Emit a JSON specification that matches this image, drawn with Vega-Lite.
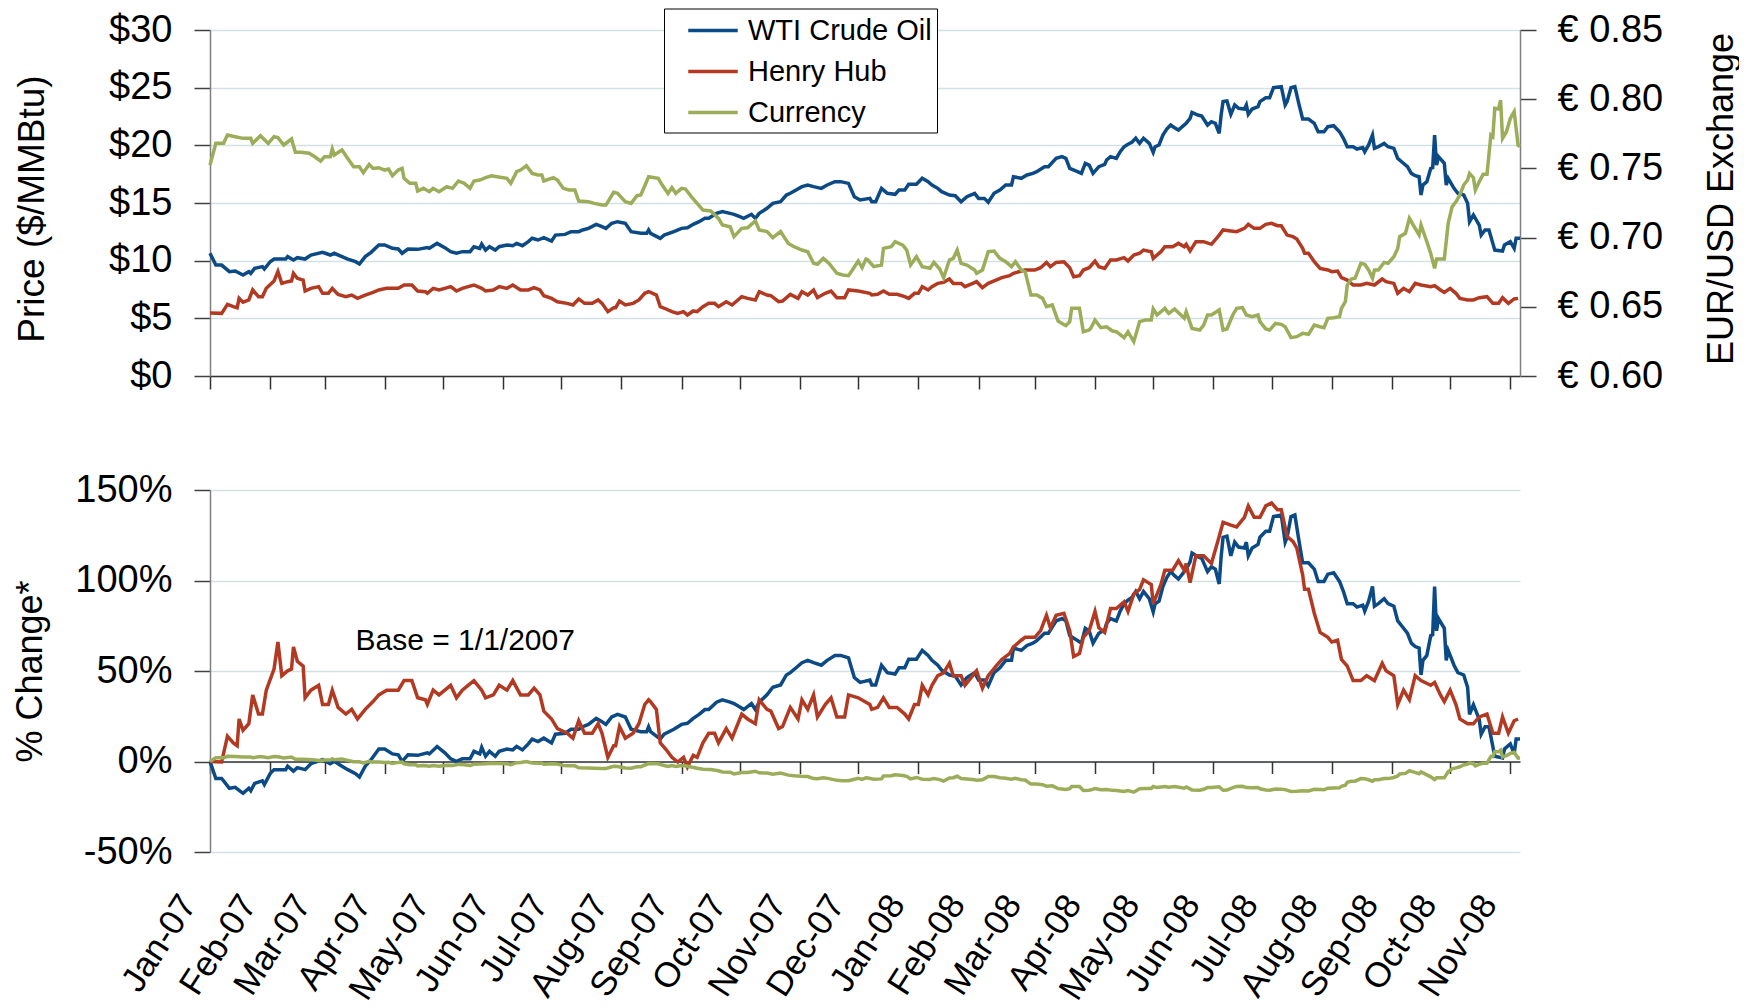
{
"$schema": "https://vega.github.io/schema/vega-lite/v6.json",
"padding": {"left": 12, "top": 8, "right": 0, "bottom": 0},
"background": "white",
"spacing": 76,
"config": {
 "font": "Liberation Sans",
 "view": {"stroke": null},
 "axis": {"labelFont": "Liberation Sans", "titleFont": "Liberation Sans", "labelColor": "#000", "titleColor": "#000", "titleFontWeight": "normal", "labelFontSize": 38, "titleFontSize": 36, "gridColor": "#d3e1e6", "gridWidth": 1.5, "domainColor": "#7f7f7f", "tickColor": "#404040", "domainWidth": 1.5, "tickWidth": 1.5},
 "line": {"strokeWidth": 3.5}
},
"resolve": {"scale": {"color": "independent", "x": "independent"}},
"datasets": {
"wti": [
{"d":"2007-01-01","v":10.64,"p":0},{"d":"2007-01-04","v":9.62,"p":-0.094},{"d":"2007-01-07","v":9.62,"p":-0.094},{"d":"2007-01-11","v":9.05,"p":-0.148},{"d":"2007-01-14","v":9.10,"p":-0.143},{"d":"2007-01-18","v":8.76,"p":-0.176},{"d":"2007-01-21","v":9.05,"p":-0.148},{"d":"2007-01-22","v":8.90,"p":-0.162},{"d":"2007-01-24","v":9.33,"p":-0.121},{"d":"2007-01-28","v":9.48,"p":-0.107},{"d":"2007-01-29","v":9.28,"p":-0.127},{"d":"2007-02-01","v":9.91,"p":-0.067},{"d":"2007-02-03","v":10.14,"p":-0.045},{"d":"2007-02-09","v":10.14,"p":-0.045},{"d":"2007-02-10","v":10.35,"p":-0.026},{"d":"2007-02-13","v":10.06,"p":-0.053},{"d":"2007-02-15","v":10.26,"p":-0.034},{"d":"2007-02-19","v":10.14,"p":-0.045},{"d":"2007-02-22","v":10.49,"p":-0.012},{"d":"2007-02-28","v":10.72,"p":0.010},{"d":"2007-03-04","v":10.49,"p":-0.012},{"d":"2007-03-06","v":10.64,"p":0.001},{"d":"2007-03-10","v":10.35,"p":-0.026},{"d":"2007-03-13","v":10.14,"p":-0.045},{"d":"2007-03-17","v":9.91,"p":-0.067},{"d":"2007-03-19","v":9.71,"p":-0.086},{"d":"2007-03-22","v":10.35,"p":-0.026},{"d":"2007-03-25","v":10.72,"p":0.010},{"d":"2007-03-29","v":11.36,"p":0.069},{"d":"2007-04-01","v":11.36,"p":0.069},{"d":"2007-04-05","v":11.07,"p":0.042},{"d":"2007-04-08","v":11.01,"p":0.037},{"d":"2007-04-10","v":10.64,"p":0.001},{"d":"2007-04-13","v":11.01,"p":0.037},{"d":"2007-04-18","v":10.98,"p":0.034},{"d":"2007-04-23","v":11.13,"p":0.048},{"d":"2007-04-24","v":11.07,"p":0.042},{"d":"2007-04-28","v":11.50,"p":0.083},{"d":"2007-05-02","v":11.13,"p":0.048},{"d":"2007-05-05","v":10.78,"p":0.015},{"d":"2007-05-08","v":10.64,"p":0.001},{"d":"2007-05-11","v":10.78,"p":0.015},{"d":"2007-05-15","v":10.78,"p":0.015},{"d":"2007-05-17","v":11.21,"p":0.056},{"d":"2007-05-20","v":11.07,"p":0.042},{"d":"2007-05-21","v":11.44,"p":0.078},{"d":"2007-05-23","v":10.92,"p":0.029},{"d":"2007-05-25","v":11.21,"p":0.056},{"d":"2007-05-28","v":10.92,"p":0.029},{"d":"2007-05-30","v":11.21,"p":0.056},{"d":"2007-06-03","v":11.36,"p":0.069},{"d":"2007-06-06","v":11.30,"p":0.064},{"d":"2007-06-08","v":11.50,"p":0.083},{"d":"2007-06-11","v":11.30,"p":0.064},{"d":"2007-06-14","v":11.65,"p":0.097},{"d":"2007-06-16","v":11.94,"p":0.124},{"d":"2007-06-19","v":11.79,"p":0.110},{"d":"2007-06-22","v":11.99,"p":0.129},{"d":"2007-06-26","v":11.70,"p":0.102},{"d":"2007-06-28","v":12.22,"p":0.151},{"d":"2007-07-03","v":12.28,"p":0.156},{"d":"2007-07-06","v":12.51,"p":0.178},{"d":"2007-07-10","v":12.51,"p":0.178},{"d":"2007-07-12","v":12.66,"p":0.192},{"d":"2007-07-15","v":12.80,"p":0.205},{"d":"2007-07-19","v":13.15,"p":0.238},{"d":"2007-07-22","v":12.95,"p":0.219},{"d":"2007-07-24","v":12.80,"p":0.205},{"d":"2007-07-27","v":13.24,"p":0.246},{"d":"2007-07-30","v":13.38,"p":0.260},{"d":"2007-08-03","v":13.24,"p":0.246},{"d":"2007-08-06","v":12.51,"p":0.178},{"d":"2007-08-11","v":12.37,"p":0.165},{"d":"2007-08-14","v":12.37,"p":0.165},{"d":"2007-08-15","v":12.66,"p":0.192},{"d":"2007-08-16","v":12.37,"p":0.165},{"d":"2007-08-21","v":11.94,"p":0.124},{"d":"2007-08-23","v":12.22,"p":0.151},{"d":"2007-08-28","v":12.51,"p":0.178},{"d":"2007-09-01","v":12.80,"p":0.205},{"d":"2007-09-04","v":12.86,"p":0.211},{"d":"2007-09-07","v":13.15,"p":0.238},{"d":"2007-09-10","v":13.38,"p":0.260},{"d":"2007-09-13","v":13.67,"p":0.287},{"d":"2007-09-15","v":13.67,"p":0.287},{"d":"2007-09-19","v":14.10,"p":0.328},{"d":"2007-09-22","v":14.25,"p":0.341},{"d":"2007-09-26","v":14.10,"p":0.328},{"d":"2007-09-28","v":14.02,"p":0.320},{"d":"2007-10-01","v":13.81,"p":0.301},{"d":"2007-10-03","v":13.67,"p":0.287},{"d":"2007-10-07","v":14.02,"p":0.320},{"d":"2007-10-09","v":13.67,"p":0.287},{"d":"2007-10-11","v":14.10,"p":0.328},{"d":"2007-10-15","v":14.54,"p":0.369},{"d":"2007-10-18","v":14.97,"p":0.410},{"d":"2007-10-22","v":15.11,"p":0.423},{"d":"2007-10-25","v":15.69,"p":0.478},{"d":"2007-10-27","v":15.84,"p":0.491},{"d":"2007-10-30","v":16.13,"p":0.518},{"d":"2007-11-02","v":16.42,"p":0.546},{"d":"2007-11-05","v":16.56,"p":0.559},{"d":"2007-11-08","v":16.42,"p":0.546},{"d":"2007-11-12","v":16.27,"p":0.532},{"d":"2007-11-15","v":16.56,"p":0.559},{"d":"2007-11-19","v":16.85,"p":0.586},{"d":"2007-11-22","v":16.85,"p":0.586},{"d":"2007-11-26","v":16.70,"p":0.573},{"d":"2007-11-29","v":15.55,"p":0.464},{"d":"2007-12-02","v":15.26,"p":0.437},{"d":"2007-12-07","v":15.40,"p":0.450},{"d":"2007-12-08","v":15.11,"p":0.423},{"d":"2007-12-10","v":15.11,"p":0.423},{"d":"2007-12-13","v":16.27,"p":0.532},{"d":"2007-12-16","v":15.84,"p":0.491},{"d":"2007-12-20","v":15.75,"p":0.483},{"d":"2007-12-22","v":16.13,"p":0.518},{"d":"2007-12-25","v":16.13,"p":0.518},{"d":"2007-12-27","v":16.62,"p":0.565},{"d":"2007-12-31","v":16.62,"p":0.565},{"d":"2008-01-03","v":17.14,"p":0.614},{"d":"2008-01-06","v":16.85,"p":0.586},{"d":"2008-01-08","v":16.56,"p":0.559},{"d":"2008-01-11","v":16.27,"p":0.532},{"d":"2008-01-13","v":15.98,"p":0.505},{"d":"2008-01-17","v":15.69,"p":0.478},{"d":"2008-01-20","v":15.63,"p":0.472},{"d":"2008-01-23","v":15.11,"p":0.423},{"d":"2008-01-26","v":15.55,"p":0.464},{"d":"2008-01-30","v":15.84,"p":0.491},{"d":"2008-02-01","v":15.40,"p":0.450},{"d":"2008-02-04","v":15.40,"p":0.450},{"d":"2008-02-06","v":15.06,"p":0.418},{"d":"2008-02-09","v":15.84,"p":0.491},{"d":"2008-02-12","v":16.13,"p":0.518},{"d":"2008-02-15","v":16.56,"p":0.559},{"d":"2008-02-18","v":16.56,"p":0.559},{"d":"2008-02-19","v":17.28,"p":0.627},{"d":"2008-02-23","v":17.14,"p":0.614},{"d":"2008-02-26","v":17.43,"p":0.641},{"d":"2008-02-29","v":17.57,"p":0.654},{"d":"2008-03-02","v":17.72,"p":0.668},{"d":"2008-03-06","v":18.15,"p":0.709},{"d":"2008-03-08","v":18.15,"p":0.709},{"d":"2008-03-12","v":18.87,"p":0.777},{"d":"2008-03-15","v":19.02,"p":0.790},{"d":"2008-03-17","v":18.87,"p":0.777},{"d":"2008-03-19","v":18.00,"p":0.695},{"d":"2008-03-23","v":17.72,"p":0.668},{"d":"2008-03-25","v":17.57,"p":0.654},{"d":"2008-03-27","v":18.44,"p":0.736},{"d":"2008-03-29","v":18.29,"p":0.722},{"d":"2008-03-31","v":17.57,"p":0.654},{"d":"2008-04-03","v":18.15,"p":0.709},{"d":"2008-04-06","v":18.35,"p":0.728},{"d":"2008-04-07","v":18.73,"p":0.763},{"d":"2008-04-09","v":19.02,"p":0.790},{"d":"2008-04-12","v":18.87,"p":0.777},{"d":"2008-04-14","v":19.45,"p":0.831},{"d":"2008-04-16","v":19.88,"p":0.872},{"d":"2008-04-18","v":20.09,"p":0.891},{"d":"2008-04-20","v":20.26,"p":0.907},{"d":"2008-04-22","v":20.61,"p":0.940},{"d":"2008-04-24","v":20.17,"p":0.899},{"d":"2008-04-26","v":20.61,"p":0.940},{"d":"2008-04-29","v":20.17,"p":0.899},{"d":"2008-05-01","v":19.39,"p":0.826},{"d":"2008-05-02","v":19.88,"p":0.872},{"d":"2008-05-04","v":20.03,"p":0.886},{"d":"2008-05-06","v":20.89,"p":0.967},{"d":"2008-05-08","v":21.41,"p":1.016},{"d":"2008-05-10","v":21.76,"p":1.049},{"d":"2008-05-12","v":21.53,"p":1.027},{"d":"2008-05-14","v":21.33,"p":1.008},{"d":"2008-05-16","v":21.62,"p":1.035},{"d":"2008-05-18","v":21.91,"p":1.063},{"d":"2008-05-20","v":22.34,"p":1.103},{"d":"2008-05-21","v":22.86,"p":1.152},{"d":"2008-05-24","v":22.63,"p":1.131},{"d":"2008-05-26","v":22.54,"p":1.122},{"d":"2008-05-29","v":21.76,"p":1.049},{"d":"2008-05-31","v":22.05,"p":1.076},{"d":"2008-06-02","v":21.91,"p":1.063},{"d":"2008-06-04","v":21.04,"p":0.981},{"d":"2008-06-05","v":22.63,"p":1.131},{"d":"2008-06-06","v":23.79,"p":1.239},{"d":"2008-06-08","v":23.84,"p":1.245},{"d":"2008-06-10","v":22.69,"p":1.136},{"d":"2008-06-12","v":23.50,"p":1.212},{"d":"2008-06-14","v":23.21,"p":1.185},{"d":"2008-06-17","v":23.15,"p":1.180},{"d":"2008-06-18","v":23.50,"p":1.212},{"d":"2008-06-19","v":22.69,"p":1.136},{"d":"2008-06-21","v":23.15,"p":1.180},{"d":"2008-06-24","v":23.35,"p":1.199},{"d":"2008-06-25","v":23.79,"p":1.239},{"d":"2008-06-28","v":24.13,"p":1.272},{"d":"2008-06-30","v":24.13,"p":1.272},{"d":"2008-07-02","v":25.00,"p":1.354},{"d":"2008-07-06","v":25.09,"p":1.362},{"d":"2008-07-08","v":23.50,"p":1.212},{"d":"2008-07-09","v":23.79,"p":1.239},{"d":"2008-07-11","v":25.00,"p":1.354},{"d":"2008-07-13","v":25.09,"p":1.362},{"d":"2008-07-15","v":23.64,"p":1.226},{"d":"2008-07-17","v":22.28,"p":1.098},{"d":"2008-07-20","v":22.28,"p":1.098},{"d":"2008-07-23","v":21.91,"p":1.063},{"d":"2008-07-25","v":21.18,"p":0.995},{"d":"2008-07-28","v":21.18,"p":0.995},{"d":"2008-07-30","v":21.62,"p":1.035},{"d":"2008-08-02","v":21.70,"p":1.043},{"d":"2008-08-05","v":21.18,"p":0.995},{"d":"2008-08-07","v":20.61,"p":0.940},{"d":"2008-08-09","v":19.88,"p":0.872},{"d":"2008-08-12","v":19.88,"p":0.872},{"d":"2008-08-14","v":19.68,"p":0.853},{"d":"2008-08-17","v":19.80,"p":0.864},{"d":"2008-08-18","v":19.45,"p":0.831},{"d":"2008-08-20","v":20.03,"p":0.886},{"d":"2008-08-22","v":20.89,"p":0.967},{"d":"2008-08-23","v":19.74,"p":0.858},{"d":"2008-08-25","v":19.88,"p":0.872},{"d":"2008-08-28","v":20.17,"p":0.899},{"d":"2008-08-30","v":19.88,"p":0.872},{"d":"2008-09-02","v":19.74,"p":0.858},{"d":"2008-09-04","v":18.87,"p":0.777},{"d":"2008-09-06","v":18.58,"p":0.750},{"d":"2008-09-09","v":18.15,"p":0.709},{"d":"2008-09-11","v":17.57,"p":0.654},{"d":"2008-09-13","v":17.37,"p":0.635},{"d":"2008-09-15","v":17.28,"p":0.627},{"d":"2008-09-16","v":15.69,"p":0.478},{"d":"2008-09-17","v":16.56,"p":0.559},{"d":"2008-09-19","v":16.85,"p":0.586},{"d":"2008-09-21","v":18.00,"p":0.695},{"d":"2008-09-22","v":18.06,"p":0.701},{"d":"2008-09-23","v":20.89,"p":0.967},{"d":"2008-09-24","v":18.29,"p":0.722},{"d":"2008-09-25","v":19.02,"p":0.790},{"d":"2008-09-28","v":18.44,"p":0.736},{"d":"2008-09-29","v":16.56,"p":0.559},{"d":"2008-09-30","v":17.14,"p":0.614},{"d":"2008-10-03","v":16.27,"p":0.532},{"d":"2008-10-05","v":15.84,"p":0.491},{"d":"2008-10-08","v":15.69,"p":0.478},{"d":"2008-10-10","v":14.97,"p":0.410},{"d":"2008-10-11","v":13.38,"p":0.260},{"d":"2008-10-13","v":13.96,"p":0.314},{"d":"2008-10-16","v":13.09,"p":0.233},{"d":"2008-10-17","v":12.22,"p":0.151},{"d":"2008-10-19","v":12.66,"p":0.192},{"d":"2008-10-21","v":12.66,"p":0.192},{"d":"2008-10-23","v":11.50,"p":0.083},{"d":"2008-10-24","v":10.92,"p":0.029},{"d":"2008-10-28","v":10.84,"p":0.020},{"d":"2008-10-29","v":11.36,"p":0.069},{"d":"2008-11-01","v":11.65,"p":0.097},{"d":"2008-11-03","v":11.07,"p":0.042},{"d":"2008-11-04","v":11.94,"p":0.124},{"d":"2008-11-06","v":11.94,"p":0.124}
],
"hh": [
{"d":"2007-01-01","v":5.46,"p":0},{"d":"2007-01-07","v":5.43,"p":-0.003},{"d":"2007-01-10","v":6.21,"p":0.140},{"d":"2007-01-13","v":6.01,"p":0.103},{"d":"2007-01-15","v":5.92,"p":0.087},{"d":"2007-01-16","v":6.73,"p":0.235},{"d":"2007-01-18","v":6.39,"p":0.172},{"d":"2007-01-21","v":6.59,"p":0.209},{"d":"2007-01-23","v":7.46,"p":0.368},{"d":"2007-01-26","v":6.88,"p":0.262},{"d":"2007-01-28","v":6.88,"p":0.262},{"d":"2007-01-30","v":7.60,"p":0.394},{"d":"2007-02-03","v":8.24,"p":0.511},{"d":"2007-02-05","v":9.05,"p":0.660},{"d":"2007-02-07","v":8.03,"p":0.474},{"d":"2007-02-10","v":8.18,"p":0.501},{"d":"2007-02-12","v":8.24,"p":0.511},{"d":"2007-02-13","v":8.90,"p":0.633},{"d":"2007-02-15","v":8.47,"p":0.554},{"d":"2007-02-18","v":8.32,"p":0.527},{"d":"2007-02-19","v":7.37,"p":0.352},{"d":"2007-02-22","v":7.60,"p":0.394},{"d":"2007-02-26","v":7.75,"p":0.421},{"d":"2007-02-28","v":7.17,"p":0.315},{"d":"2007-03-03","v":7.17,"p":0.315},{"d":"2007-03-05","v":7.60,"p":0.394},{"d":"2007-03-08","v":7.08,"p":0.299},{"d":"2007-03-12","v":6.88,"p":0.262},{"d":"2007-03-15","v":7.02,"p":0.288},{"d":"2007-03-18","v":6.73,"p":0.235},{"d":"2007-03-22","v":7.02,"p":0.288},{"d":"2007-03-26","v":7.25,"p":0.331},{"d":"2007-03-29","v":7.46,"p":0.368},{"d":"2007-04-02","v":7.60,"p":0.394},{"d":"2007-04-08","v":7.60,"p":0.394},{"d":"2007-04-11","v":7.89,"p":0.447},{"d":"2007-04-15","v":7.89,"p":0.447},{"d":"2007-04-18","v":7.37,"p":0.352},{"d":"2007-04-22","v":7.31,"p":0.341},{"d":"2007-04-23","v":7.17,"p":0.315},{"d":"2007-04-26","v":7.60,"p":0.394},{"d":"2007-04-29","v":7.46,"p":0.368},{"d":"2007-05-02","v":7.60,"p":0.394},{"d":"2007-05-05","v":7.75,"p":0.421},{"d":"2007-05-08","v":7.37,"p":0.352},{"d":"2007-05-11","v":7.60,"p":0.394},{"d":"2007-05-14","v":7.75,"p":0.421},{"d":"2007-05-17","v":7.89,"p":0.447},{"d":"2007-05-21","v":7.60,"p":0.394},{"d":"2007-05-23","v":7.37,"p":0.352},{"d":"2007-05-27","v":7.46,"p":0.368},{"d":"2007-05-30","v":7.75,"p":0.421},{"d":"2007-06-03","v":7.60,"p":0.394},{"d":"2007-06-06","v":7.89,"p":0.447},{"d":"2007-06-10","v":7.46,"p":0.368},{"d":"2007-06-14","v":7.46,"p":0.368},{"d":"2007-06-17","v":7.66,"p":0.405},{"d":"2007-06-20","v":7.46,"p":0.368},{"d":"2007-06-22","v":6.96,"p":0.278},{"d":"2007-06-26","v":6.73,"p":0.235},{"d":"2007-06-29","v":6.44,"p":0.182},{"d":"2007-07-04","v":6.30,"p":0.156},{"d":"2007-07-07","v":6.16,"p":0.129},{"d":"2007-07-10","v":6.68,"p":0.225},{"d":"2007-07-13","v":6.30,"p":0.156},{"d":"2007-07-17","v":6.30,"p":0.156},{"d":"2007-07-20","v":6.59,"p":0.209},{"d":"2007-07-22","v":6.30,"p":0.156},{"d":"2007-07-25","v":5.58,"p":0.023},{"d":"2007-07-28","v":5.92,"p":0.087},{"d":"2007-07-29","v":5.92,"p":0.087},{"d":"2007-07-31","v":6.50,"p":0.193},{"d":"2007-08-03","v":6.16,"p":0.129},{"d":"2007-08-07","v":6.30,"p":0.156},{"d":"2007-08-10","v":6.59,"p":0.209},{"d":"2007-08-13","v":7.17,"p":0.315},{"d":"2007-08-15","v":7.31,"p":0.341},{"d":"2007-08-16","v":7.25,"p":0.331},{"d":"2007-08-19","v":7.02,"p":0.288},{"d":"2007-08-21","v":6.01,"p":0.103},{"d":"2007-08-24","v":5.81,"p":0.066},{"d":"2007-08-27","v":5.58,"p":0.023},{"d":"2007-08-30","v":5.43,"p":-0.003},{"d":"2007-09-02","v":5.58,"p":0.023},{"d":"2007-09-04","v":5.29,"p":-0.030},{"d":"2007-09-07","v":5.64,"p":0.034},{"d":"2007-09-09","v":5.58,"p":0.023},{"d":"2007-09-12","v":6.01,"p":0.103},{"d":"2007-09-15","v":6.30,"p":0.156},{"d":"2007-09-18","v":6.30,"p":0.156},{"d":"2007-09-20","v":6.01,"p":0.103},{"d":"2007-09-24","v":6.44,"p":0.182},{"d":"2007-09-27","v":6.16,"p":0.129},{"d":"2007-10-02","v":6.88,"p":0.262},{"d":"2007-10-05","v":6.73,"p":0.235},{"d":"2007-10-09","v":6.59,"p":0.209},{"d":"2007-10-11","v":7.31,"p":0.341},{"d":"2007-10-15","v":7.02,"p":0.288},{"d":"2007-10-17","v":6.96,"p":0.278},{"d":"2007-10-21","v":6.44,"p":0.182},{"d":"2007-10-23","v":6.50,"p":0.193},{"d":"2007-10-27","v":7.08,"p":0.299},{"d":"2007-10-31","v":6.73,"p":0.235},{"d":"2007-11-02","v":7.31,"p":0.341},{"d":"2007-11-05","v":7.02,"p":0.288},{"d":"2007-11-08","v":7.46,"p":0.368},{"d":"2007-11-10","v":6.79,"p":0.246},{"d":"2007-11-14","v":7.17,"p":0.315},{"d":"2007-11-17","v":7.37,"p":0.352},{"d":"2007-11-20","v":6.79,"p":0.246},{"d":"2007-11-24","v":6.79,"p":0.246},{"d":"2007-11-26","v":7.46,"p":0.368},{"d":"2007-12-01","v":7.37,"p":0.352},{"d":"2007-12-07","v":7.17,"p":0.315},{"d":"2007-12-08","v":7.02,"p":0.288},{"d":"2007-12-11","v":7.08,"p":0.299},{"d":"2007-12-14","v":7.37,"p":0.352},{"d":"2007-12-17","v":7.08,"p":0.299},{"d":"2007-12-21","v":7.08,"p":0.299},{"d":"2007-12-25","v":6.88,"p":0.262},{"d":"2007-12-27","v":6.73,"p":0.235},{"d":"2007-12-30","v":7.17,"p":0.315},{"d":"2008-01-01","v":7.17,"p":0.315},{"d":"2008-01-03","v":7.75,"p":0.421},{"d":"2008-01-06","v":7.46,"p":0.368},{"d":"2008-01-08","v":7.75,"p":0.421},{"d":"2008-01-11","v":8.03,"p":0.474},{"d":"2008-01-14","v":8.12,"p":0.490},{"d":"2008-01-17","v":8.41,"p":0.543},{"d":"2008-01-19","v":8.03,"p":0.474},{"d":"2008-01-23","v":8.03,"p":0.474},{"d":"2008-01-25","v":7.75,"p":0.421},{"d":"2008-01-29","v":8.03,"p":0.474},{"d":"2008-01-31","v":8.18,"p":0.501},{"d":"2008-02-03","v":7.66,"p":0.405},{"d":"2008-02-06","v":8.03,"p":0.474},{"d":"2008-02-10","v":8.32,"p":0.527},{"d":"2008-02-13","v":8.53,"p":0.564},{"d":"2008-02-17","v":8.70,"p":0.596},{"d":"2008-02-19","v":8.90,"p":0.633},{"d":"2008-02-23","v":9.10,"p":0.670},{"d":"2008-02-25","v":9.19,"p":0.686},{"d":"2008-03-01","v":9.19,"p":0.686},{"d":"2008-03-04","v":9.39,"p":0.723},{"d":"2008-03-07","v":9.85,"p":0.808},{"d":"2008-03-09","v":9.48,"p":0.739},{"d":"2008-03-12","v":9.85,"p":0.808},{"d":"2008-03-16","v":9.91,"p":0.819},{"d":"2008-03-19","v":9.39,"p":0.723},{"d":"2008-03-21","v":8.61,"p":0.580},{"d":"2008-03-24","v":8.70,"p":0.596},{"d":"2008-03-26","v":9.19,"p":0.686},{"d":"2008-03-29","v":9.39,"p":0.723},{"d":"2008-04-01","v":9.97,"p":0.829},{"d":"2008-04-03","v":9.48,"p":0.739},{"d":"2008-04-06","v":9.33,"p":0.713},{"d":"2008-04-09","v":10.06,"p":0.845},{"d":"2008-04-12","v":10.06,"p":0.845},{"d":"2008-04-16","v":10.26,"p":0.882},{"d":"2008-04-18","v":9.97,"p":0.829},{"d":"2008-04-21","v":10.49,"p":0.925},{"d":"2008-04-24","v":10.64,"p":0.951},{"d":"2008-04-26","v":10.92,"p":1.004},{"d":"2008-04-30","v":10.78,"p":0.978},{"d":"2008-05-01","v":10.20,"p":0.872},{"d":"2008-05-05","v":10.78,"p":0.978},{"d":"2008-05-07","v":11.21,"p":1.057},{"d":"2008-05-11","v":11.21,"p":1.057},{"d":"2008-05-14","v":11.50,"p":1.110},{"d":"2008-05-17","v":11.21,"p":1.057},{"d":"2008-05-18","v":11.42,"p":1.094},{"d":"2008-05-20","v":10.84,"p":0.988},{"d":"2008-05-23","v":11.65,"p":1.137},{"d":"2008-05-27","v":11.65,"p":1.137},{"d":"2008-05-31","v":11.42,"p":1.094},{"d":"2008-06-04","v":12.22,"p":1.243},{"d":"2008-06-06","v":12.66,"p":1.322},{"d":"2008-06-10","v":12.57,"p":1.306},{"d":"2008-06-13","v":12.51,"p":1.296},{"d":"2008-06-17","v":12.80,"p":1.349},{"d":"2008-06-19","v":13.15,"p":1.412},{"d":"2008-06-22","v":12.80,"p":1.349},{"d":"2008-06-25","v":12.80,"p":1.349},{"d":"2008-06-28","v":13.15,"p":1.412},{"d":"2008-07-01","v":13.24,"p":1.428},{"d":"2008-07-04","v":13.03,"p":1.391},{"d":"2008-07-06","v":13.03,"p":1.391},{"d":"2008-07-09","v":12.22,"p":1.243},{"d":"2008-07-12","v":12.08,"p":1.216},{"d":"2008-07-14","v":11.88,"p":1.179},{"d":"2008-07-17","v":11.07,"p":1.031},{"d":"2008-07-18","v":10.64,"p":0.951},{"d":"2008-07-20","v":10.64,"p":0.951},{"d":"2008-07-23","v":9.91,"p":0.819},{"d":"2008-07-26","v":9.33,"p":0.713},{"d":"2008-07-30","v":9.19,"p":0.686},{"d":"2008-08-01","v":9.05,"p":0.660},{"d":"2008-08-04","v":9.10,"p":0.670},{"d":"2008-08-06","v":8.53,"p":0.564},{"d":"2008-08-09","v":8.32,"p":0.527},{"d":"2008-08-12","v":7.89,"p":0.447},{"d":"2008-08-16","v":7.89,"p":0.447},{"d":"2008-08-19","v":8.03,"p":0.474},{"d":"2008-08-23","v":7.89,"p":0.447},{"d":"2008-08-27","v":8.41,"p":0.543},{"d":"2008-08-29","v":8.18,"p":0.501},{"d":"2008-09-02","v":8.03,"p":0.474},{"d":"2008-09-04","v":7.17,"p":0.315},{"d":"2008-09-07","v":7.60,"p":0.394},{"d":"2008-09-10","v":7.31,"p":0.341},{"d":"2008-09-13","v":8.03,"p":0.474},{"d":"2008-09-16","v":7.89,"p":0.447},{"d":"2008-09-21","v":7.75,"p":0.421},{"d":"2008-09-23","v":7.83,"p":0.437},{"d":"2008-09-26","v":7.46,"p":0.368},{"d":"2008-09-28","v":7.25,"p":0.331},{"d":"2008-10-01","v":7.60,"p":0.394},{"d":"2008-10-04","v":7.17,"p":0.315},{"d":"2008-10-06","v":6.73,"p":0.235},{"d":"2008-10-10","v":6.59,"p":0.209},{"d":"2008-10-13","v":6.59,"p":0.209},{"d":"2008-10-16","v":6.79,"p":0.246},{"d":"2008-10-20","v":6.88,"p":0.262},{"d":"2008-10-23","v":6.30,"p":0.156},{"d":"2008-10-26","v":6.30,"p":0.156},{"d":"2008-10-28","v":6.79,"p":0.246},{"d":"2008-10-31","v":6.30,"p":0.156},{"d":"2008-11-03","v":6.68,"p":0.225},{"d":"2008-11-05","v":6.73,"p":0.235}
],
"cur": [
{"d":"2007-01-01","v":0.7524,"p":0},{"d":"2007-01-04","v":0.7681,"p":0.0207},{"d":"2007-01-08","v":0.7681,"p":0.0207},{"d":"2007-01-10","v":0.7741,"p":0.0287},{"d":"2007-01-14","v":0.7729,"p":0.0271},{"d":"2007-01-18","v":0.7717,"p":0.0255},{"d":"2007-01-22","v":0.7717,"p":0.0255},{"d":"2007-01-23","v":0.7681,"p":0.0207},{"d":"2007-01-27","v":0.7736,"p":0.0281},{"d":"2007-01-31","v":0.7681,"p":0.0207},{"d":"2007-02-03","v":0.7729,"p":0.0271},{"d":"2007-02-05","v":0.7722,"p":0.0262},{"d":"2007-02-08","v":0.7669,"p":0.0191},{"d":"2007-02-12","v":0.7712,"p":0.0249},{"d":"2007-02-14","v":0.7616,"p":0.0121},{"d":"2007-02-17","v":0.7616,"p":0.0121},{"d":"2007-02-21","v":0.7609,"p":0.0111},{"d":"2007-02-24","v":0.7584,"p":0.0079},{"d":"2007-02-27","v":0.7553,"p":0.0038},{"d":"2007-03-01","v":0.7584,"p":0.0079},{"d":"2007-03-04","v":0.7584,"p":0.0079},{"d":"2007-03-05","v":0.7640,"p":0.0153},{"d":"2007-03-06","v":0.7597,"p":0.0095},{"d":"2007-03-10","v":0.7633,"p":0.0143},{"d":"2007-03-13","v":0.7572,"p":0.0063},{"d":"2007-03-16","v":0.7512,"p":-0.0017},{"d":"2007-03-19","v":0.7512,"p":-0.0017},{"d":"2007-03-21","v":0.7469,"p":-0.0074},{"d":"2007-03-24","v":0.7529,"p":0.0006},{"d":"2007-03-26","v":0.7500,"p":-0.0033},{"d":"2007-03-29","v":0.7505,"p":-0.0026},{"d":"2007-04-01","v":0.7488,"p":-0.0049},{"d":"2007-04-03","v":0.7495,"p":-0.0039},{"d":"2007-04-05","v":0.7447,"p":-0.0103},{"d":"2007-04-08","v":0.7488,"p":-0.0049},{"d":"2007-04-10","v":0.7500,"p":-0.0033},{"d":"2007-04-11","v":0.7428,"p":-0.0129},{"d":"2007-04-14","v":0.7392,"p":-0.0177},{"d":"2007-04-17","v":0.7392,"p":-0.0177},{"d":"2007-04-18","v":0.7336,"p":-0.0250},{"d":"2007-04-21","v":0.7356,"p":-0.0225},{"d":"2007-04-24","v":0.7332,"p":-0.0257},{"d":"2007-04-26","v":0.7356,"p":-0.0225},{"d":"2007-04-29","v":0.7332,"p":-0.0257},{"d":"2007-05-03","v":0.7368,"p":-0.0209},{"d":"2007-05-06","v":0.7356,"p":-0.0225},{"d":"2007-05-09","v":0.7409,"p":-0.0154},{"d":"2007-05-12","v":0.7392,"p":-0.0177},{"d":"2007-05-15","v":0.7356,"p":-0.0225},{"d":"2007-05-17","v":0.7409,"p":-0.0154},{"d":"2007-05-20","v":0.7416,"p":-0.0145},{"d":"2007-05-23","v":0.7433,"p":-0.0122},{"d":"2007-05-26","v":0.7447,"p":-0.0103},{"d":"2007-05-29","v":0.7440,"p":-0.0113},{"d":"2007-06-03","v":0.7428,"p":-0.0129},{"d":"2007-06-05","v":0.7392,"p":-0.0177},{"d":"2007-06-08","v":0.7476,"p":-0.0065},{"d":"2007-06-10","v":0.7488,"p":-0.0049},{"d":"2007-06-13","v":0.7519,"p":-0.0007},{"d":"2007-06-16","v":0.7464,"p":-0.0081},{"d":"2007-06-19","v":0.7452,"p":-0.0097},{"d":"2007-06-21","v":0.7452,"p":-0.0097},{"d":"2007-06-22","v":0.7409,"p":-0.0154},{"d":"2007-06-27","v":0.7433,"p":-0.0122},{"d":"2007-06-29","v":0.7416,"p":-0.0145},{"d":"2007-07-02","v":0.7356,"p":-0.0225},{"d":"2007-07-05","v":0.7344,"p":-0.0241},{"d":"2007-07-08","v":0.7344,"p":-0.0241},{"d":"2007-07-10","v":0.7264,"p":-0.0346},{"d":"2007-07-15","v":0.7259,"p":-0.0353},{"d":"2007-07-18","v":0.7247,"p":-0.0369},{"d":"2007-07-22","v":0.7235,"p":-0.0385},{"d":"2007-07-24","v":0.7235,"p":-0.0385},{"d":"2007-07-28","v":0.7327,"p":-0.0263},{"d":"2007-07-30","v":0.7320,"p":-0.0273},{"d":"2007-08-03","v":0.7259,"p":-0.0353},{"d":"2007-08-06","v":0.7247,"p":-0.0369},{"d":"2007-08-09","v":0.7303,"p":-0.0295},{"d":"2007-08-11","v":0.7308,"p":-0.0289},{"d":"2007-08-15","v":0.7440,"p":-0.0113},{"d":"2007-08-20","v":0.7428,"p":-0.0129},{"d":"2007-08-22","v":0.7380,"p":-0.0193},{"d":"2007-08-25","v":0.7320,"p":-0.0273},{"d":"2007-08-27","v":0.7361,"p":-0.0218},{"d":"2007-08-29","v":0.7320,"p":-0.0273},{"d":"2007-09-01","v":0.7356,"p":-0.0225},{"d":"2007-09-03","v":0.7351,"p":-0.0231},{"d":"2007-09-06","v":0.7296,"p":-0.0305},{"d":"2007-09-09","v":0.7247,"p":-0.0369},{"d":"2007-09-12","v":0.7199,"p":-0.0433},{"d":"2007-09-16","v":0.7192,"p":-0.0442},{"d":"2007-09-20","v":0.7139,"p":-0.0513},{"d":"2007-09-22","v":0.7091,"p":-0.0577},{"d":"2007-09-26","v":0.7079,"p":-0.0593},{"d":"2007-09-28","v":0.7007,"p":-0.0689},{"d":"2007-10-02","v":0.7067,"p":-0.0609},{"d":"2007-10-05","v":0.7071,"p":-0.0603},{"d":"2007-10-09","v":0.7120,"p":-0.0538},{"d":"2007-10-11","v":0.7055,"p":-0.0625},{"d":"2007-10-15","v":0.7043,"p":-0.0641},{"d":"2007-10-18","v":0.6999,"p":-0.0698},{"d":"2007-10-22","v":0.7043,"p":-0.0641},{"d":"2007-10-26","v":0.6958,"p":-0.0753},{"d":"2007-10-29","v":0.6934,"p":-0.0785},{"d":"2007-11-02","v":0.6910,"p":-0.0817},{"d":"2007-11-05","v":0.6898,"p":-0.0833},{"d":"2007-11-08","v":0.6814,"p":-0.0945},{"d":"2007-11-10","v":0.6807,"p":-0.0954},{"d":"2007-11-13","v":0.6850,"p":-0.0897},{"d":"2007-11-16","v":0.6814,"p":-0.0945},{"d":"2007-11-20","v":0.6742,"p":-0.1041},{"d":"2007-11-23","v":0.6730,"p":-0.1057},{"d":"2007-11-26","v":0.6725,"p":-0.1064},{"d":"2007-11-28","v":0.6766,"p":-0.1009},{"d":"2007-12-01","v":0.6831,"p":-0.0923},{"d":"2007-12-03","v":0.6783,"p":-0.0987},{"d":"2007-12-05","v":0.6845,"p":-0.0903},{"d":"2007-12-06","v":0.6838,"p":-0.0913},{"d":"2007-12-09","v":0.6790,"p":-0.0977},{"d":"2007-12-13","v":0.6802,"p":-0.0961},{"d":"2007-12-14","v":0.6922,"p":-0.0801},{"d":"2007-12-18","v":0.6934,"p":-0.0785},{"d":"2007-12-20","v":0.6970,"p":-0.0737},{"d":"2007-12-24","v":0.6946,"p":-0.0769},{"d":"2007-12-26","v":0.6910,"p":-0.0817},{"d":"2007-12-28","v":0.6802,"p":-0.0961},{"d":"2007-12-31","v":0.6862,"p":-0.0881},{"d":"2008-01-03","v":0.6790,"p":-0.0977},{"d":"2008-01-07","v":0.6778,"p":-0.0993},{"d":"2008-01-09","v":0.6821,"p":-0.0935},{"d":"2008-01-12","v":0.6773,"p":-0.0999},{"d":"2008-01-14","v":0.6710,"p":-0.1083},{"d":"2008-01-17","v":0.6838,"p":-0.0913},{"d":"2008-01-19","v":0.6850,"p":-0.0897},{"d":"2008-01-21","v":0.6910,"p":-0.0817},{"d":"2008-01-23","v":0.6814,"p":-0.0945},{"d":"2008-01-26","v":0.6802,"p":-0.0961},{"d":"2008-01-30","v":0.6766,"p":-0.1009},{"d":"2008-01-31","v":0.6742,"p":-0.1041},{"d":"2008-02-03","v":0.6766,"p":-0.1009},{"d":"2008-02-06","v":0.6898,"p":-0.0833},{"d":"2008-02-09","v":0.6903,"p":-0.0827},{"d":"2008-02-12","v":0.6850,"p":-0.0897},{"d":"2008-02-15","v":0.6826,"p":-0.0929},{"d":"2008-02-18","v":0.6790,"p":-0.0977},{"d":"2008-02-20","v":0.6826,"p":-0.0929},{"d":"2008-02-23","v":0.6766,"p":-0.1009},{"d":"2008-02-25","v":0.6754,"p":-0.1025},{"d":"2008-02-28","v":0.6585,"p":-0.1249},{"d":"2008-03-02","v":0.6585,"p":-0.1249},{"d":"2008-03-05","v":0.6561,"p":-0.1281},{"d":"2008-03-07","v":0.6501,"p":-0.1361},{"d":"2008-03-10","v":0.6513,"p":-0.1345},{"d":"2008-03-13","v":0.6397,"p":-0.1499},{"d":"2008-03-15","v":0.6380,"p":-0.1521},{"d":"2008-03-17","v":0.6364,"p":-0.1544},{"d":"2008-03-19","v":0.6393,"p":-0.1505},{"d":"2008-03-20","v":0.6489,"p":-0.1377},{"d":"2008-03-24","v":0.6489,"p":-0.1377},{"d":"2008-03-26","v":0.6320,"p":-0.1601},{"d":"2008-03-29","v":0.6332,"p":-0.1585},{"d":"2008-03-30","v":0.6349,"p":-0.1563},{"d":"2008-04-01","v":0.6405,"p":-0.1489},{"d":"2008-04-04","v":0.6349,"p":-0.1563},{"d":"2008-04-07","v":0.6356,"p":-0.1553},{"d":"2008-04-10","v":0.6325,"p":-0.1595},{"d":"2008-04-12","v":0.6320,"p":-0.1601},{"d":"2008-04-16","v":0.6277,"p":-0.1659},{"d":"2008-04-18","v":0.6320,"p":-0.1601},{"d":"2008-04-21","v":0.6248,"p":-0.1697},{"d":"2008-04-24","v":0.6393,"p":-0.1505},{"d":"2008-04-27","v":0.6405,"p":-0.1489},{"d":"2008-04-30","v":0.6405,"p":-0.1489},{"d":"2008-05-01","v":0.6484,"p":-0.1383},{"d":"2008-05-03","v":0.6441,"p":-0.1441},{"d":"2008-05-07","v":0.6489,"p":-0.1377},{"d":"2008-05-09","v":0.6453,"p":-0.1425},{"d":"2008-05-12","v":0.6484,"p":-0.1383},{"d":"2008-05-15","v":0.6445,"p":-0.1435},{"d":"2008-05-17","v":0.6417,"p":-0.1473},{"d":"2008-05-18","v":0.6465,"p":-0.1409},{"d":"2008-05-21","v":0.6344,"p":-0.1569},{"d":"2008-05-25","v":0.6332,"p":-0.1585},{"d":"2008-05-27","v":0.6368,"p":-0.1537},{"d":"2008-05-29","v":0.6441,"p":-0.1441},{"d":"2008-05-31","v":0.6441,"p":-0.1441},{"d":"2008-06-04","v":0.6477,"p":-0.1393},{"d":"2008-06-06","v":0.6332,"p":-0.1585},{"d":"2008-06-08","v":0.6340,"p":-0.1575},{"d":"2008-06-11","v":0.6441,"p":-0.1441},{"d":"2008-06-13","v":0.6489,"p":-0.1377},{"d":"2008-06-16","v":0.6494,"p":-0.1371},{"d":"2008-06-18","v":0.6441,"p":-0.1441},{"d":"2008-06-21","v":0.6429,"p":-0.1457},{"d":"2008-06-24","v":0.6441,"p":-0.1441},{"d":"2008-06-25","v":0.6393,"p":-0.1505},{"d":"2008-06-28","v":0.6340,"p":-0.1575},{"d":"2008-06-30","v":0.6332,"p":-0.1585},{"d":"2008-07-03","v":0.6380,"p":-0.1521},{"d":"2008-07-06","v":0.6373,"p":-0.1531},{"d":"2008-07-08","v":0.6356,"p":-0.1553},{"d":"2008-07-11","v":0.6277,"p":-0.1659},{"d":"2008-07-14","v":0.6284,"p":-0.1649},{"d":"2008-07-17","v":0.6308,"p":-0.1617},{"d":"2008-07-20","v":0.6301,"p":-0.1627},{"d":"2008-07-23","v":0.6368,"p":-0.1537},{"d":"2008-07-26","v":0.6356,"p":-0.1553},{"d":"2008-07-28","v":0.6349,"p":-0.1563},{"d":"2008-07-30","v":0.6417,"p":-0.1473},{"d":"2008-08-02","v":0.6421,"p":-0.1467},{"d":"2008-08-05","v":0.6429,"p":-0.1457},{"d":"2008-08-06","v":0.6489,"p":-0.1377},{"d":"2008-08-08","v":0.6537,"p":-0.1313},{"d":"2008-08-09","v":0.6657,"p":-0.1153},{"d":"2008-08-11","v":0.6701,"p":-0.1095},{"d":"2008-08-13","v":0.6706,"p":-0.1089},{"d":"2008-08-16","v":0.6814,"p":-0.0945},{"d":"2008-08-18","v":0.6807,"p":-0.0954},{"d":"2008-08-20","v":0.6766,"p":-0.1009},{"d":"2008-08-22","v":0.6706,"p":-0.1089},{"d":"2008-08-23","v":0.6766,"p":-0.1009},{"d":"2008-08-25","v":0.6766,"p":-0.1009},{"d":"2008-08-28","v":0.6821,"p":-0.0935},{"d":"2008-08-30","v":0.6814,"p":-0.0945},{"d":"2008-09-02","v":0.6862,"p":-0.0881},{"d":"2008-09-04","v":0.6922,"p":-0.0801},{"d":"2008-09-05","v":0.7007,"p":-0.0689},{"d":"2008-09-08","v":0.7031,"p":-0.0657},{"d":"2008-09-10","v":0.7139,"p":-0.0513},{"d":"2008-09-12","v":0.7091,"p":-0.0577},{"d":"2008-09-15","v":0.7019,"p":-0.0673},{"d":"2008-09-16","v":0.7091,"p":-0.0577},{"d":"2008-09-19","v":0.6970,"p":-0.0737},{"d":"2008-09-21","v":0.6886,"p":-0.0849},{"d":"2008-09-23","v":0.6778,"p":-0.0993},{"d":"2008-09-24","v":0.6845,"p":-0.0903},{"d":"2008-09-28","v":0.6845,"p":-0.0903},{"d":"2008-09-30","v":0.7103,"p":-0.0561},{"d":"2008-10-02","v":0.7223,"p":-0.0401},{"d":"2008-10-04","v":0.7259,"p":-0.0353},{"d":"2008-10-06","v":0.7308,"p":-0.0289},{"d":"2008-10-08","v":0.7380,"p":-0.0193},{"d":"2008-10-10","v":0.7416,"p":-0.0145},{"d":"2008-10-11","v":0.7464,"p":-0.0081},{"d":"2008-10-13","v":0.7433,"p":-0.0122},{"d":"2008-10-14","v":0.7344,"p":-0.0241},{"d":"2008-10-16","v":0.7404,"p":-0.0161},{"d":"2008-10-18","v":0.7457,"p":-0.0090},{"d":"2008-10-20","v":0.7457,"p":-0.0090},{"d":"2008-10-22","v":0.7741,"p":0.0287},{"d":"2008-10-23","v":0.7729,"p":0.0271},{"d":"2008-10-24","v":0.7934,"p":0.0544},{"d":"2008-10-26","v":0.7929,"p":0.0538},{"d":"2008-10-27","v":0.7994,"p":0.0624},{"d":"2008-10-28","v":0.7717,"p":0.0255},{"d":"2008-10-30","v":0.7765,"p":0.0319},{"d":"2008-11-01","v":0.7861,"p":0.0448},{"d":"2008-11-03","v":0.7910,"p":0.0512},{"d":"2008-11-05","v":0.7669,"p":0.0191},{"d":"2008-11-06","v":0.7657,"p":0.0175}
]
},
"vconcat": [
{
 "width": 1310, "height": 346,
 "resolve": {"scale": {"y": "independent"}},
 "layer": [
  {"layer": [
   {"data": {"name": "wti"}, "mark": {"type": "line", "strokeWidth": 3.5},
    "encoding": {
     "x": {"field": "d", "type": "temporal", "scale": {"type": "utc", "domain": [{"year": 2007, "month": 1, "date": 1, "utc": true}, {"year": 2008, "month": 11, "date": 6, "utc": true}]},
      "axis": {"labels": false, "tickSize": 13, "domainColor": "#333", "tickColor": "#333", "grid": false, "title": null, "tickCount": {"interval": "month", "step": 1}}},
     "y": {"field": "v", "type": "quantitative", "scale": {"domain": [0, 30], "nice": false},
      "axis": {"values": [0, 5, 10, 15, 20, 25, 30], "format": "$.0f", "tickSize": 16, "labelPadding": 22, "grid": true, "title": "Price ($/MMBtu)", "titleX": -178, "titleY": 178.5, "titleAngle": 270, "titleAlign": "center", "titleBaseline": "middle", "titleFontSize": 37}},
     "color": {"datum": "WTI Crude Oil", "type": "nominal",
      "scale": {"domain": ["WTI Crude Oil", "Henry Hub", "Currency"], "range": ["#0c4a85", "#b23a22", "#9cad5a"]},
      "legend": {"orient": "none", "legendX": 454, "legendY": -21.5, "title": null, "direction": "vertical", "strokeColor": "#000", "fillColor": "#fff", "padding": 5, "symbolType": "M-1.65,0L1.65,0", "symbolSize": 900, "symbolStrokeWidth": 4, "symbolOffset": 27, "labelOffset": 18, "rowPadding": 9, "labelFontSize": 29, "labelFont": "Liberation Sans", "labelColor": "#000", "labelExpr": "datum.label + '\u00a0\u00a0\u00a0'", "labelLimit": 0}}
    }},
   {"data": {"name": "hh"}, "mark": {"type": "line", "strokeWidth": 3.5},
    "encoding": {
     "x": {"field": "d", "type": "temporal"},
     "y": {"field": "v", "type": "quantitative"},
     "color": {"datum": "Henry Hub", "type": "nominal"}
    }}
  ]},
  {"data": {"name": "cur"}, "mark": {"type": "line", "strokeWidth": 3.5},
   "encoding": {
    "x": {"field": "d", "type": "temporal"},
    "y": {"field": "v", "type": "quantitative", "scale": {"domain": [0.6, 0.85], "nice": false, "zero": false},
     "axis": {"orient": "right", "values": [0.6, 0.65, 0.7, 0.75, 0.8, 0.85], "labelExpr": "'€ ' + format(datum.value, '.2f')", "tickSize": 16, "labelPadding": 21, "grid": false, "title": "EUR/USD Exchange", "titleX": 201, "titleY": 168.5, "titleAngle": 270, "titleAlign": "center", "titleBaseline": "middle", "titleFontSize": 36}},
    "color": {"datum": "Currency", "type": "nominal"}
   }}
 ]
},
{
 "width": 1310, "height": 362,
 "resolve": {"axis": {"x": "independent"}},
 "layer": [
  {"data": {"name": "wti"}, "mark": {"type": "line", "strokeWidth": 3.5},
   "encoding": {
    "x": {"field": "d", "type": "temporal", "scale": {"type": "utc", "domain": [{"year": 2007, "month": 1, "date": 1, "utc": true}, {"year": 2008, "month": 11, "date": 6, "utc": true}]},
     "axis": {"orient": "bottom", "ticks": false, "tickSize": 0, "domain": false, "grid": false, "title": null, "format": "%b-%y", "labelAngle": -57, "labelAlign": "right", "labelBaseline": "middle", "labelPadding": 46, "labelOffset": -22, "labelOverlap": false, "labelFlush": false, "labelBound": false, "tickCount": {"interval": "month", "step": 1}, "labelFontSize": 35}},
    "y": {"field": "p", "type": "quantitative", "scale": {"domain": [-0.5, 1.5], "nice": false},
     "axis": {"values": [-0.5, 0, 0.5, 1, 1.5], "labelExpr": "(datum.value < 0 ? '-' : '') + format(abs(datum.value), '.0%')", "tickSize": 16, "labelPadding": 22, "grid": true, "title": "% Change*", "titleX": -180, "titleY": 181, "titleAngle": 270, "titleAlign": "center", "titleBaseline": "middle", "titleFontSize": 36}},
    "color": {"datum": "WTI Crude Oil", "type": "nominal", "scale": {"domain": ["WTI Crude Oil", "Henry Hub", "Currency"], "range": ["#0c4a85", "#b23a22", "#9cad5a"]}, "legend": null}
   }},
  {"data": {"name": "hh"}, "mark": {"type": "line", "strokeWidth": 3.5},
   "encoding": {
    "x": {"field": "d", "type": "temporal", "axis": null},
    "y": {"field": "p", "type": "quantitative"},
    "color": {"datum": "Henry Hub", "type": "nominal", "legend": null}
   }},
  {"data": {"name": "cur"}, "mark": {"type": "line", "strokeWidth": 3.5},
   "encoding": {
    "x": {"field": "d", "type": "temporal", "axis": null},
    "y": {"field": "p", "type": "quantitative"},
    "color": {"datum": "Currency", "type": "nominal", "legend": null}
   }},
  {"data": {"values": [{"note": "Base = 1/1/2007"}]},
   "mark": {"type": "text", "align": "left", "baseline": "middle", "fontSize": 30, "font": "Liberation Sans", "color": "#000"},
   "encoding": {
    "x": {"datum": {"year": 2007, "month": 3, "date": 17, "utc": true}, "type": "temporal",
     "axis": {"orient": "bottom", "labels": false, "ticks": true, "tickSize": 12, "domain": true, "domainColor": "#333", "tickColor": "#333", "grid": false, "title": null, "offset": -90.5, "tickCount": {"interval": "month", "step": 1}}},
    "y": {"datum": 0.668, "type": "quantitative"},
    "text": {"field": "note"}
   }}
 ]
}
]
}
